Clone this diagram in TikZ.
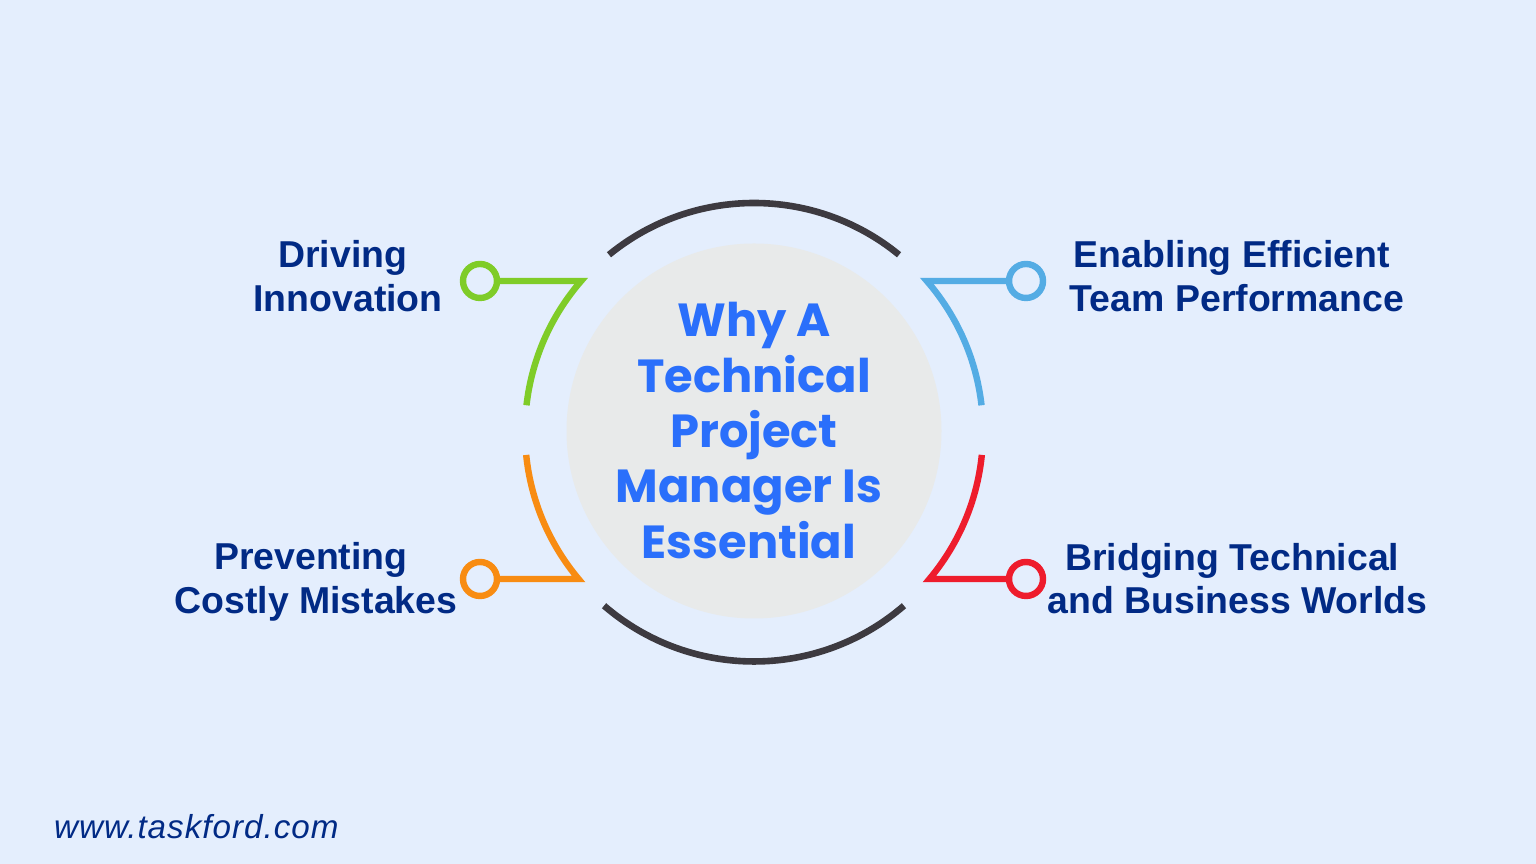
\documentclass[tikz,border=0pt]{standalone}
\usepackage{fontspec}
\usetikzlibrary{calc}
\setmainfont{Liberation Sans}
\newfontfamily\titlefont{Poppins}
\newfontfamily\urlfont[LetterSpace=3]{Liberation Sans}
\definecolor{bgblue}{HTML}{E4EEFD}
\definecolor{hubgray}{HTML}{E8EAEA}
\definecolor{titleblue}{HTML}{2A6FFB}
\definecolor{itemblue}{HTML}{012A85}
\definecolor{ringdark}{HTML}{3D3A40}
\definecolor{itemgreen}{HTML}{7FCC28}
\definecolor{itemsky}{HTML}{54ACE4}
\definecolor{itemorange}{HTML}{F88C12}
\definecolor{itemred}{HTML}{EE1C2C}
\newcommand{\trail}{\hspace*{0.28em}}
\begin{document}
\begin{tikzpicture}[line join=miter,miter limit=20,
  ring/.style ={line width=0.066cm,color=ringdark},
  arm/.style ={line width=0.064cm},
  dot/.style ={circle,line width=0.064cm,fill=bgblue,minimum size=0.34cm,inner sep=0pt},
  item/.style ={text=itemblue,align=center,font=\fontsize{10.65}{12.4}\selectfont\bfseries}]

\useasboundingbox [fill=bgblue] (0,0) rectangle (15.36,8.64);

\node[circle,fill=hubgray,minimum size=3.75cm,inner sep=0pt] (hub) at (7.54,4.33) {};
\node[text=titleblue,align=center,font=\fontsize{13.2}{15.75}\selectfont\titlefont\bfseries] (title) at (7.54,4.335)
  {Why A\\Technical\\Project\\\mbox{Manager Is\kern0.22em}\\Essential\hspace*{0.22em}};

%outer ring
\coordinate (C) at (7.54,4.32);
\draw [ring] ($(C)+(129.3:2.29)$) arc [start angle=129.3,end angle=50.7,radius=2.29];
\draw [ring] ($(C)+(-130.8:2.295)$) arc [start angle=-130.8,end angle=-49.2,radius=2.295];

%dots
\node[dot,draw=itemgreen] (D1) at (4.80,5.83) {};
\node[dot,draw=itemsky] (D2) at (10.26,5.83) {};
\node[dot,draw=itemorange] (D3) at (4.80,2.85) {};
\node[dot,draw=itemred] (D4) at (10.26,2.85) {};

%corners
\coordinate (K1) at ($(C)+(139:2.29)$);
\coordinate (K2) at ($(C)+(41:2.29)$);
\coordinate (K3) at ($(C)+(-140:2.29)$);
\coordinate (K4) at ($(C)+(-40:2.29)$);

\draw [arm,color=itemgreen] (D1) -- (D1 -| K1) arc [start angle=139,end angle=173.5,radius=2.29];
\draw [arm,color=itemsky] (D2) -- (D2 -| K2) arc [start angle=41,end angle=6.5,radius=2.29];
\draw [arm,color=itemorange] (D3) -- (D3 -| K3) arc [start angle=-140,end angle=-174.2,radius=2.29];
\draw [arm,color=itemred] (D4) -- (D4 -| K4) arc [start angle=-40,end angle=-5.8,radius=2.29];

%labels
\node[item] (L1) at (3.48,5.88) {Driving\trail\\Innovation};
\node[item] (L2) at (12.37,5.88) {Enabling Efficient\trail\\Team Performance};
\node[item] (L3) at (3.16,2.82) {Preventing\trail\\Costly Mistakes};
\node[item] (L4) at (12.375,2.855) {Bridging Technical\trail\\and Business Worlds};
\node[text=itemblue,anchor=west,inner sep=0pt,font=\fontsize{9.45}{11}\selectfont\urlfont\itshape] (url) at (0.535,0.37) {www.taskford.com};
\end{tikzpicture}
\end{document}
